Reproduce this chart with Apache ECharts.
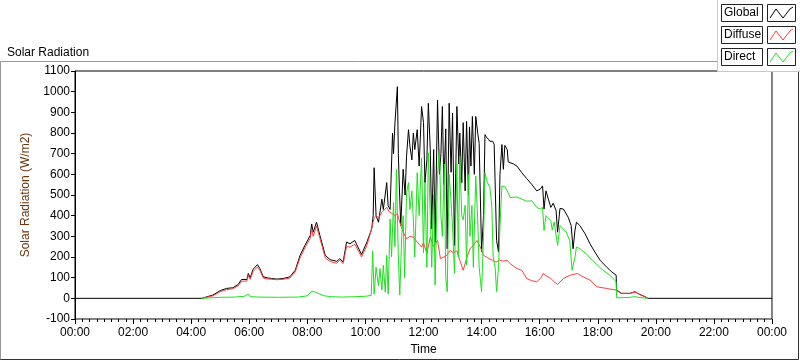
<!DOCTYPE html>
<html>
<head>
<meta charset="utf-8">
<script src="https://cdn.jsdelivr.net/npm/echarts@6/dist/echarts.min.js"></script>
<style>
  html, body { margin: 0; padding: 0; background: #fff; }
  #chart { width: 800px; height: 361px; }
</style>
</head>
<body>
<div id="chart"></div>
<script>
// time in minutes since midnight, values in W/m2
const tGlobal = [0,262,285,300,313,326,337,344,355,358,
  362,368,377,382,389,397,406,417,430,444,
  455,465,475,486,489,492,499,506,517,527,
  541,547,554,561,568,578,592,603,613,616,
  618,622,627,634,637,644,647,651,656,658,
  661,666,668,670,673,678,682,685,689,692,
  696,699,702,707,711,716,720,723,727,730,
  734,737,741,744,749,753,756,759,762,766,
  769,773,777,780,784,789,793,795,799,802,
  806,809,813,815,818,821,825,828,832,835,
  840,844,847,850,854,857,863,866,871,875,
  878,882,885,888,893,895,899,906,913,923,
  933,944,954,961,966,969,973,978,983,988,
  994,997,1002,1009,1019,1025,1029,1033,1036,1043,
  1054,1064,1074,1085,1098,1109,1118,1119,1129,1147,
  1157,1164,1178,1184,1440];
const vGlobal = [0,0,16,37,48,51,67,91,91,120,
  99,141,163,144,104,99,96,93,96,104,
  136,208,256,304,360,320,368,304,208,187,
  179,192,176,272,264,280,212,272,336,400,
  632,400,368,480,430,560,448,430,800,700,
  848,1024,700,544,352,624,500,688,816,736,
  670,800,720,816,640,928,850,560,670,944,
  720,336,720,272,960,600,700,928,550,820,
  240,944,610,896,256,928,650,800,560,850,
  520,856,500,830,640,880,600,880,800,750,
  224,400,792,780,770,760,760,744,280,224,
  600,744,624,740,720,660,656,650,640,608,
  580,550,520,528,544,432,520,480,440,460,
  424,320,435,432,392,352,240,330,368,352,
  312,264,224,184,152,128,112,40,24,24,
  32,22,8,0,0];

const tDiffuse = [262,285,300,313,326,337,344,355,358,362,
  368,377,382,389,397,406,417,430,444,455,
  465,475,486,489,492,499,506,517,527,541,
  547,554,561,568,578,592,603,613,618,622,
  627,634,644,649,661,666,671,678,685,692,
  699,707,716,720,727,734,741,749,755,762,
  769,775,782,789,795,802,809,816,823,830,
  837,844,850,857,863,870,877,885,893,899,
  913,923,933,944,954,963,967,973,983,990,
  997,1009,1023,1038,1050,1064,1078,1098,1118,1127,
  1147,1157,1165,1184];
const vDiffuse = [0,12,32,42,46,60,82,84,110,92,
  130,152,136,98,94,92,90,92,98,128,
  196,244,290,335,300,350,290,196,178,170,
  184,168,250,248,262,200,255,340,390,400,
  390,416,440,420,400,410,368,320,288,300,
  296,272,248,270,216,296,250,280,192,200,
  210,232,220,230,184,136,192,240,256,280,
  250,208,200,190,184,175,185,180,184,168,
  144,136,96,85,80,100,120,110,96,80,
  67,96,112,120,104,88,56,48,40,24,
  24,32,20,0];

const tDirect = [262,265,300,330,350,358,362,380,420,460,
  480,489,492,499,506,515,530,550,580,600,
  612,615,618,622,627,630,634,637,641,644,
  647,651,654,658,661,664,668,671,675,678,
  681,685,689,692,696,699,702,707,711,716,
  720,723,727,730,734,737,741,744,749,753,
  756,759,763,766,769,773,776,780,784,789,
  792,795,799,802,806,809,813,816,820,823,
  828,832,835,838,840,844,847,852,857,861,
  864,868,871,875,878,882,888,893,899,913,
  923,933,944,954,961,966,969,973,983,986,
  990,997,1002,1015,1022,1027,1033,1036,1043,1056,
  1069,1087,1105,1118,1119,1147,1157,1165,1184];
const vDirect = [0,3,5,6,10,20,8,6,5,6,
  12,35,42,28,20,12,8,6,8,10,
  14,230,20,150,60,144,40,160,30,208,
  20,384,200,464,250,624,200,16,300,400,
  100,512,560,430,520,380,200,608,400,680,
  220,560,150,704,400,150,500,64,600,720,
  400,300,650,100,32,600,500,350,120,650,
  200,688,400,380,450,160,600,300,450,150,
  592,380,150,80,32,300,608,560,540,450,
  200,150,32,150,350,544,540,520,488,490,
  480,470,472,440,432,440,328,400,376,330,
  370,256,352,320,280,136,200,248,240,216,
  184,144,112,80,2,5,8,4,0];

const seriesNames = ["Global", "Diffuse", "Direct"];
const seriesColors = ["#000000", "#ff4040", "#1ee01e"];

const pairs = (t, v) => t.map((x, i) => [x, v[i]]);
const pad = (n) => (n < 10 ? "0" : "") + n;
const font = "Liberation Sans";

// legend panel drawn by hand (LabVIEW style boxes)
const legendItems = [
  { type: "rect", shape: { x: 717.5, y: -1, width: 84, height: 72.5 },
    style: { fill: "#fff", stroke: "#c8c8c8", lineWidth: 1 }, z: 20 }
];
seriesNames.forEach((name, i) => {
  const y = 4 + i * 22;
  legendItems.push({
    type: "rect", shape: { x: 721.5, y: y + 0.5, width: 41, height: 17 },
    style: { fill: "#fff", stroke: "#222", lineWidth: 1 }, z: 21
  });
  legendItems.push({
    type: "text", x: 724, y: y + 3,
    style: { text: name, fill: "#000", font: "12px " + font }, z: 22
  });
  legendItems.push({
    type: "rect", shape: { x: 767.5, y: y + 0.5, width: 28, height: 17 },
    style: { fill: "#fff", stroke: "#222", lineWidth: 1 }, z: 21
  });
  legendItems.push({
    type: "polyline",
    shape: { points: [[770, y + 14], [776, y + 5], [783, y + 14], [790, y + 5], [793, y + 3]] },
    style: { stroke: seriesColors[i], lineWidth: 1, fill: null }, z: 22
  });
});

const chart = echarts.init(document.getElementById("chart"), null, { renderer: "canvas" });

const tickAxisBase = {
  type: "value", min: 0, max: 1440,
  splitLine: { show: false }
};

const option = {
  animation: false,
  backgroundColor: "#fff",
  title: {
    text: "Solar Radiation",
    left: 2, top: 42,
    textStyle: { fontSize: 12, fontWeight: "normal", color: "#000", fontFamily: font }
  },
  grid: {
    left: 75, top: 71, right: 28, bottom: 40,
    show: true, borderColor: "#000", borderWidth: 1, backgroundColor: "#fff"
  },
  xAxis: [
    Object.assign({}, tickAxisBase, {
      interval: 120,
      name: "Time", nameLocation: "middle", nameGap: 25,
      nameTextStyle: { color: "#000", fontSize: 12, fontFamily: font },
      axisLine: { show: true, onZero: false, lineStyle: { color: "#888", width: 1 } },
      axisTick: { show: true, length: 5, lineStyle: { color: "#000" } },
      axisLabel: {
        color: "#000", fontSize: 12, fontFamily: font, margin: 8,
        formatter: (v) => pad(Math.floor(v / 60) % 24) + ":" + pad(v % 60)
      }
    }),
    // minor ticks every 15 minutes
    Object.assign({}, tickAxisBase, {
      interval: 15, position: "bottom",
      axisLine: { show: false, onZero: false },
      axisTick: { show: true, length: 3, lineStyle: { color: "#000" } },
      axisLabel: { show: false }
    })
  ],
  yAxis: [
    {
      type: "value",
      min: -100, max: 1100, interval: 100,
      name: "Solar Radiation (W/m2)", nameLocation: "middle", nameGap: 43,
      nameTextStyle: { color: "#6b3510", fontSize: 12, fontFamily: font },
      axisLine: { show: true, onZero: false, lineStyle: { color: "#000" } },
      axisTick: { show: true, length: 4, lineStyle: { color: "#000" } },
      splitLine: { show: false },
      axisLabel: { color: "#000", fontSize: 12, fontFamily: font, margin: 5,
        formatter: (v) => String(v) }
    },
    {
      type: "value", position: "right",
      min: -100, max: 1100, interval: 100,
      axisLine: { show: true, onZero: false, lineStyle: { color: "#888" } },
      axisTick: { show: false }, axisLabel: { show: false }, splitLine: { show: false }
    }
  ],
  series: [
    { name: "Global", data: pairs(tGlobal, vGlobal) },
    { name: "Diffuse", data: pairs(tDiffuse, vDiffuse) },
    { name: "Direct", data: pairs(tDirect, vDirect) }
  ].map((s, i) => ({
    name: s.name, type: "line", data: s.data, xAxisIndex: 0, yAxisIndex: 0,
    showSymbol: false, symbol: "none",
    lineStyle: { color: seriesColors[i], width: 1 },
    itemStyle: { color: seriesColors[i] },
    z: 2 + i
  })),
  graphic: [
    // outer frame
    { type: "polyline", shape: { points: [[0.5, 360], [0.5, 61.5], [717, 61.5]] },
      style: { stroke: "#999", lineWidth: 1, fill: null }, z: 10 },
    { type: "polyline", shape: { points: [[798.5, 72], [798.5, 359.5], [0.5, 359.5]] },
      style: { stroke: "#333", lineWidth: 1, fill: null }, z: 10 }
  ].concat(legendItems)
};

chart.setOption(option);
</script>
</body>
</html>
